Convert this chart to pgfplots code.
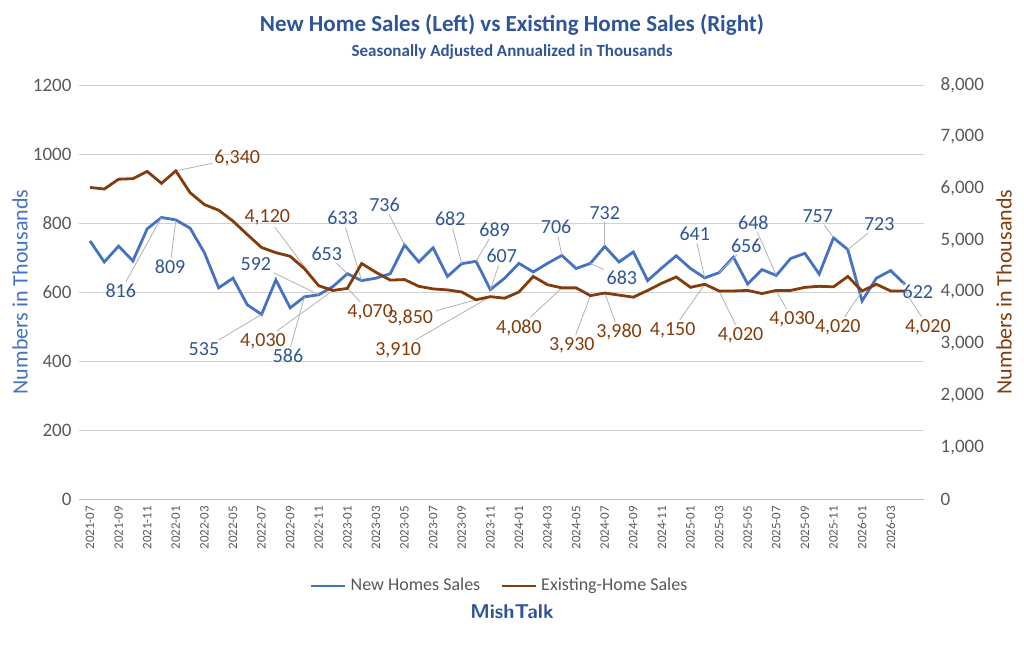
\documentclass[border=0pt]{standalone}
\usepackage{pgfplots}
\pgfplotsset{compat=1.18}
\usepackage{fontspec}
\setmainfont{Carlito}
\definecolor{nb}{HTML}{4472C4}
\definecolor{db}{HTML}{2F5597}
\definecolor{br}{HTML}{843C0C}
\definecolor{gt}{HTML}{595959}
\newcommand{\lab}[6]{\node[text=#6,font=\fontsize{10}{11}\selectfont,inner sep=1pt] (n) at (axis cs:#1,#2) {#5};\draw[black!30,line width=0.4pt] (n) -- (axis cs:#3,#4);}
\begin{document}
\begin{tikzpicture}
\path (-45pt,-79.5pt) rectangle (467pt,249.5pt);
\begin{axis}[at={(0,0)},anchor=origin,scale only axis,width=422.5pt,height=207pt,
 xmin=-0.8,xmax=58.3,ymin=0,ymax=1200,ytick={0,200,...,1200},
 axis x line*=bottom, axis y line*=left, axis line style={draw=none},
 x axis line style={draw=black!25},
 ymajorgrids, grid style={black!18},
 major tick length=0pt,
 /pgf/number format/assume math mode=true,
 /pgf/number format/1000 sep={},
 yticklabel style={font=\fontsize{9.5}{10}\selectfont,text=gt},
 xtick={0,2,...,56},
 xticklabels={2021-07,2021-09,2021-11,2022-01,2022-03,2022-05,2022-07,2022-09,2022-11,2023-01,2023-03,2023-05,2023-07,2023-09,2023-11,2024-01,2024-03,2024-05,2024-07,2024-09,2024-11,2025-01,2025-03,2025-05,2025-07,2025-09,2025-11,2026-01,2026-03},
 xticklabel style={rotate=90,anchor=east,font=\fontsize{6.5}{7}\selectfont,text=gt},
 legend style={at={(0.4994,-0.21)},anchor=center,draw=none,legend columns=2,font=\fontsize{9}{10}\selectfont,text=gt,/tikz/every even column/.append style={column sep=8pt}},
 clip=false]
\addplot[nb,line width=1.4pt] coordinates {
(0,748)(1,687)(2,733)(3,690)(4,783)(5,816)(6,809)(7,785)(8,714)(9,612)(10,640)(11,563)(12,535)(13,635)(14,554)(15,586)(16,592)(17,616)(18,653)(19,633)(20,640)(21,653)(22,736)(23,687)(24,728)(25,645)(26,682)(27,689)(28,607)(29,640)(30,683)(31,658)(32,683)(33,706)(34,668)(35,683)(36,732)(37,687)(38,716)(39,633)(40,670)(41,705)(42,668)(43,641)(44,656)(45,701)(46,623)(47,665)(48,648)(49,697)(50,712)(51,652)(52,757)(53,723)(54,574)(55,640)(56,662)(57,622)};
\addlegendentry{New Homes Sales}
\addlegendimage{br,line width=1.4pt}
\addlegendentry{Existing-Home Sales}
\lab{2.15}{603}{5}{816}{816}{db}
\lab{5.6}{673}{6}{809}{809}{db}
\lab{7.97}{435}{12}{535}{535}{db}
\lab{11.6}{681}{16}{592}{592}{db}
\lab{13.85}{414}{15}{586}{586}{db}
\lab{16.56}{710}{18}{653}{653}{db}
\lab{17.67}{814}{19}{633}{633}{db}
\lab{20.6}{852}{22}{736}{736}{db}
\lab{25.2}{812}{26}{682}{682}{db}
\lab{28.3}{780}{27}{689}{689}{db}
\lab{28.8}{704}{28}{607}{607}{db}
\lab{32.6}{788}{33}{706}{706}{db}
\lab{36.0}{829}{36}{732}{732}{db}
\lab{37.2}{641}{35}{683}{683}{db}
\lab{42.3}{768}{43}{641}{641}{db}
\lab{45.9}{735}{44}{656}{656}{db}
\lab{46.4}{800}{48}{648}{648}{db}
\lab{50.9}{820}{52}{757}{757}{db}
\lab{55.2}{797}{53}{723}{723}{db}
\lab{57.9}{600}{57}{622}{622}{db}
\lab{10.3}{988}{6}{951}{6,340}{br}
\lab{12.4}{817}{16}{618}{4,120}{br}
\lab{12.1}{458}{17}{604.5}{4,030}{br}
\lab{19.6}{541}{18}{610.5}{4,070}{br}
\lab{22.4}{525}{27}{577.5}{3,850}{br}
\lab{21.55}{432}{28}{586.5}{3,910}{br}
\lab{30.0}{496}{33}{612}{4,080}{br}
\lab{33.7}{446}{35}{589.5}{3,930}{br}
\lab{37.0}{484}{36}{597}{3,980}{br}
\lab{40.75}{490}{43}{622.5}{4,150}{br}
\lab{45.5}{475}{44}{603}{4,020}{br}
\lab{49.1}{522}{48}{604.5}{4,030}{br}
\lab{52.3}{499}{54}{603}{4,020}{br}
\lab{58.6}{499}{57}{603}{4,020}{br}
\end{axis}
\begin{axis}[at={(0,0)},anchor=origin,scale only axis,width=422.5pt,height=207pt,
 xmin=-0.8,xmax=58.3,ymin=0,ymax=8000,ytick={0,1000,...,8000},
 axis x line=none, axis y line*=right, axis line style={draw=none},
 major tick length=0pt,
 /pgf/number format/assume math mode=true,
 /pgf/number format/1000 sep={,},
 yticklabel style={font=\fontsize{9.5}{10}\selectfont,text=gt,xshift=5pt},clip=false]
\addplot[br,line width=1.4pt] coordinates {
(0,6020)(1,5990)(2,6180)(3,6190)(4,6330)(5,6100)(6,6340)(7,5920)(8,5690)(9,5580)(10,5370)(11,5110)(12,4860)(13,4760)(14,4690)(15,4450)(16,4120)(17,4030)(18,4070)(19,4550)(20,4380)(21,4230)(22,4240)(23,4110)(24,4060)(25,4040)(26,4000)(27,3850)(28,3910)(29,3880)(30,4000)(31,4300)(32,4140)(33,4080)(34,4080)(35,3930)(36,3980)(37,3940)(38,3900)(39,4030)(40,4170)(41,4290)(42,4090)(43,4150)(44,4020)(45,4020)(46,4030)(47,3970)(48,4030)(49,4030)(50,4090)(51,4110)(52,4100)(53,4300)(54,4020)(55,4150)(56,4020)(57,4020)};
\end{axis}
\node[font=\bfseries\fontsize{11.5}{13}\selectfont,text=db] at (211pt,237pt) {New Home Sales (Left) vs Existing Home Sales (Right)};
\node[font=\bfseries\fontsize{8.5}{9}\selectfont,text=db] at (211pt,223.5pt) {Seasonally Adjusted Annualized in Thousands};
\node[font=\sffamily\bfseries\fontsize{10}{11}\selectfont,text=db] at (211pt,-56.5pt) {MishTalk};
\node[rotate=90,font=\fontsize{11}{12}\selectfont,text=nb] at (-35pt,103.5pt) {Numbers in Thousands};
\node[rotate=90,font=\fontsize{11}{12}\selectfont,text=br] at (457pt,103.5pt) {Numbers in Thousands};
\end{tikzpicture}
\end{document}
